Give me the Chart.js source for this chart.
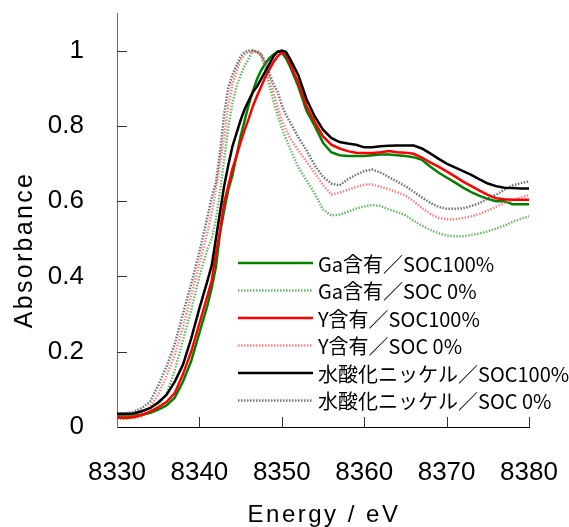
<!DOCTYPE html>
<html>
<head>
<meta charset="utf-8">
<script src="https://cdn.jsdelivr.net/npm/chart.js@4"></script>
<style>
  html, body { margin: 0; padding: 0; background: #fff; }
  #wrap { width: 569px; height: 527px; }
</style>
</head>
<body>
<div id="wrap"><canvas id="xasChart" width="569" height="527"></canvas></div>
<script>
// エネルギー (eV)
const energy = [
  8330, 8331, 8332, 8333, 8334, 8335, 8336, 8337, 8338, 8339, 8340, 8341,
  8341.5, 8342, 8342.5, 8343, 8343.5, 8344, 8344.5, 8345, 8345.5, 8346,
  8346.5, 8347, 8347.5, 8348, 8348.5, 8349, 8349.5, 8350, 8350.5, 8351,
  8352, 8353, 8354, 8355, 8356, 8357, 8358, 8359, 8360, 8361, 8362, 8363,
  8364, 8365, 8366, 8367, 8368, 8369, 8370, 8371, 8372, 8373, 8374, 8375,
  8376, 8377, 8378, 8379, 8380
];

// 吸光度（規格化）
const ga100 = [
  0.03, 0.029, 0.03, 0.033, 0.037, 0.046, 0.057, 0.078, 0.12, 0.175, 0.25, 0.325,
  0.37, 0.425, 0.515, 0.575, 0.63, 0.668, 0.72, 0.772, 0.815, 0.858,
  0.893, 0.925, 0.948, 0.965, 0.98, 0.99, 0.998, 0.995, 0.98, 0.958,
  0.905, 0.84, 0.80, 0.755, 0.73, 0.722, 0.72, 0.72, 0.72, 0.722, 0.724, 0.724,
  0.722, 0.72, 0.717, 0.71, 0.692, 0.676, 0.663, 0.65, 0.636, 0.624, 0.614, 0.606,
  0.60, 0.60, 0.592, 0.592, 0.592
];
const ga0 = [
  0.022, 0.022, 0.024, 0.028, 0.04, 0.056, 0.087, 0.15, 0.23, 0.31, 0.40, 0.475,
  0.50, 0.55, 0.625, 0.71, 0.795, 0.86, 0.905, 0.935, 0.96, 0.98,
  1.0, 0.997, 0.985, 0.955, 0.905, 0.865, 0.828, 0.795, 0.765, 0.74,
  0.69, 0.655, 0.62, 0.578, 0.562, 0.564, 0.572, 0.58, 0.586, 0.59, 0.587, 0.578,
  0.571, 0.563, 0.548, 0.535, 0.524, 0.515, 0.509, 0.507, 0.507, 0.51, 0.514, 0.52,
  0.527, 0.535, 0.545, 0.553, 0.56
];
const y100 = [
  0.025, 0.024, 0.026, 0.032, 0.041, 0.052, 0.066, 0.09, 0.14, 0.20, 0.275, 0.35,
  0.39, 0.46, 0.52, 0.595, 0.64, 0.685, 0.72, 0.757, 0.79, 0.82,
  0.853, 0.88, 0.905, 0.93, 0.95, 0.97, 0.985, 0.995, 0.99, 0.965,
  0.915, 0.853, 0.81, 0.772, 0.75, 0.74, 0.733, 0.729, 0.728, 0.728, 0.73, 0.733,
  0.73, 0.729, 0.726, 0.716, 0.703, 0.692, 0.679, 0.666, 0.652, 0.64, 0.628, 0.617,
  0.608, 0.605, 0.604, 0.604, 0.604
];
const y0 = [
  0.028, 0.028, 0.031, 0.038, 0.054, 0.085, 0.135, 0.192, 0.265, 0.35, 0.435, 0.52,
  0.57, 0.63, 0.70, 0.77, 0.853, 0.91, 0.945, 0.975, 0.99, 0.997,
  0.997, 0.996, 0.99, 0.96, 0.925, 0.889, 0.85, 0.815, 0.79, 0.768,
  0.735, 0.705, 0.675, 0.643, 0.618, 0.622, 0.63, 0.638, 0.644, 0.644, 0.638, 0.632,
  0.624, 0.615, 0.60, 0.582, 0.566, 0.556, 0.552, 0.552, 0.555, 0.56, 0.566, 0.575,
  0.585, 0.595, 0.603, 0.61, 0.616
];
const ni100 = [
  0.035, 0.035, 0.036, 0.042, 0.05, 0.065, 0.085, 0.12, 0.165, 0.235, 0.315, 0.39,
  0.43, 0.50, 0.57, 0.64, 0.695, 0.745, 0.78, 0.815, 0.845, 0.868,
  0.89, 0.905, 0.925, 0.945, 0.965, 0.985, 0.997, 1.0, 0.997, 0.978,
  0.935, 0.871, 0.825, 0.79, 0.768, 0.757, 0.753, 0.75, 0.743, 0.743, 0.746, 0.747,
  0.748, 0.748, 0.748, 0.74, 0.727, 0.713, 0.70, 0.69, 0.68, 0.67, 0.658, 0.647,
  0.64, 0.636, 0.635, 0.634, 0.634
];
const ni0 = [
  0.035, 0.036, 0.04, 0.05, 0.067, 0.11, 0.16, 0.22, 0.30, 0.38, 0.465, 0.56,
  0.61, 0.65, 0.73, 0.83, 0.90, 0.935, 0.96, 0.985, 0.997, 1.0,
  1.0, 0.998, 0.99, 0.97, 0.94, 0.91, 0.89, 0.855, 0.83, 0.81,
  0.77, 0.735, 0.695, 0.665, 0.647, 0.642, 0.658, 0.67, 0.68, 0.684, 0.676, 0.664,
  0.652, 0.64, 0.625, 0.61, 0.596, 0.585, 0.58, 0.58, 0.581, 0.587, 0.595, 0.607,
  0.617, 0.63, 0.642, 0.648, 0.652
];

const seriesNames = [
  'Ga含有／SOC100%',
  'Ga含有／SOC 0%',
  'Y含有／SOC100%',
  'Y含有／SOC 0%',
  '水酸化ニッケル／SOC100%',
  '水酸化ニッケル／SOC 0%'
];
const xTicks = [8330, 8340, 8350, 8360, 8370, 8380];
const yTicks = [0, 0.2, 0.4, 0.6, 0.8, 1];
const xTitle = 'Energy / eV';
const yTitle = 'Absorbance';

const toPoints = vals => energy.map((e, i) => ({ x: e, y: vals[i] }));

function solid(label, vals, color, order) {
  return { label, data: toPoints(vals), borderColor: color, borderWidth: 2.5,
           pointRadius: 0, tension: 0, fill: false, order };
}
function dotted(label, vals, color, order) {
  return { label, data: toPoints(vals), borderColor: color, borderWidth: 2.5,
           borderDash: [1.5, 1.5], pointRadius: 0, tension: 0, fill: false, order };
}

// 軸の余白を固定
function noPad(s) {
  s.paddingLeft = 0; s.paddingRight = 0;
  s.paddingTop = 0; s.paddingBottom = 0;
}

// 内向き目盛り・軸タイトル・凡例
const decorPlugin = {
  id: 'decor',
  afterDraw(chart) {
    const { ctx, chartArea, scales: { x, y } } = chart;
    ctx.save();
    ctx.strokeStyle = '#333';
    ctx.lineWidth = 1;
    ctx.beginPath();
    xTicks.forEach(v => {
      if (v === x.min) return;
      const px = Math.round(x.getPixelForValue(v)) + 0.5;
      ctx.moveTo(px, chartArea.bottom);
      ctx.lineTo(px, chartArea.bottom - 10);
    });
    yTicks.forEach(v => {
      if (v === y.min) return;
      const py = Math.round(y.getPixelForValue(v)) + 0.5;
      ctx.moveTo(chartArea.left, py);
      ctx.lineTo(chartArea.left + 10, py);
    });
    ctx.stroke();

    // 軸タイトル
    ctx.fillStyle = '#000';
    ctx.textAlign = 'center';
    ctx.textBaseline = 'middle';
    ctx.font = '24px "Liberation Sans", Arial, sans-serif';
    ctx.letterSpacing = '2.5px';
    ctx.fillText(xTitle, (chartArea.left + chartArea.right) / 2 + 1, 515);
    ctx.font = '25px "Liberation Sans", Arial, sans-serif';
    ctx.letterSpacing = '2.3px';
    ctx.translate(25, 250);
    ctx.rotate(-Math.PI / 2);
    ctx.fillText(yTitle, 0, 0);
    ctx.setTransform(1, 0, 0, 1, 0, 0);
    ctx.letterSpacing = '0px';

    // 凡例
    const legendX = 238, lineLen = 75, rowTop = 263, rowGap = 27.5;
    ctx.font = '20px "Noto Sans CJK JP", sans-serif';
    ctx.textAlign = 'left';
    chart.data.datasets.forEach((ds, i) => {
      const ly = rowTop + i * rowGap;
      ctx.strokeStyle = ds.borderColor;
      ctx.lineWidth = ds.borderWidth;
      ctx.setLineDash(ds.borderDash || []);
      ctx.beginPath();
      ctx.moveTo(legendX, ly);
      ctx.lineTo(legendX + lineLen, ly);
      ctx.stroke();
      ctx.setLineDash([]);
      ctx.fillStyle = '#000';
      ctx.fillText(ds.label, legendX + lineLen + 5, ly + 1);
    });
    ctx.restore();
  }
};

const tickFont = { family: '"Liberation Sans", Arial, sans-serif', size: 26 };

new Chart(document.getElementById('xasChart'), {
  type: 'line',
  data: {
    datasets: [
      solid(seriesNames[0], ga100, '#008000', 5),
      dotted(seriesNames[1], ga0, 'rgba(60,160,60,0.75)', 6),
      solid(seriesNames[2], y100, '#ff0000', 3),
      dotted(seriesNames[3], y0, 'rgba(255,90,90,0.75)', 4),
      solid(seriesNames[4], ni100, '#000000', 1),
      dotted(seriesNames[5], ni0, 'rgba(80,80,80,0.8)', 2)
    ]
  },
  options: {
    responsive: false,
    animation: false,
    devicePixelRatio: 1,
    layout: { padding: { top: 13, right: 40, left: 0, bottom: 0 } },
    plugins: {
      legend: { display: false },
      tooltip: { enabled: false }
    },
    scales: {
      x: {
        type: 'linear',
        min: 8330,
        max: 8380,
        afterBuildTicks: s => { s.ticks = xTicks.map(v => ({ value: v })); },
        afterFit: s => { s.height = 100; noPad(s); },
        grid: { display: false, drawTicks: false },
        border: { display: true, color: '#000', width: 1 },
        ticks: { color: '#000', font: tickFont, padding: 30, maxRotation: 0,
                 callback: v => String(v) }
      },
      y: {
        min: 0,
        max: 1.1,
        afterBuildTicks: s => { s.ticks = yTicks.map(v => ({ value: v })); },
        afterFit: s => { s.width = 117; noPad(s); },
        grid: { display: false, drawTicks: false },
        border: { display: true, color: '#666', width: 1 },
        ticks: {
          color: '#000',
          font: tickFont,
          padding: 33,
          callback: v => String(Math.round(v * 10) / 10)
        }
      }
    }
  },
  plugins: [decorPlugin]
});
</script>
</body>
</html>
